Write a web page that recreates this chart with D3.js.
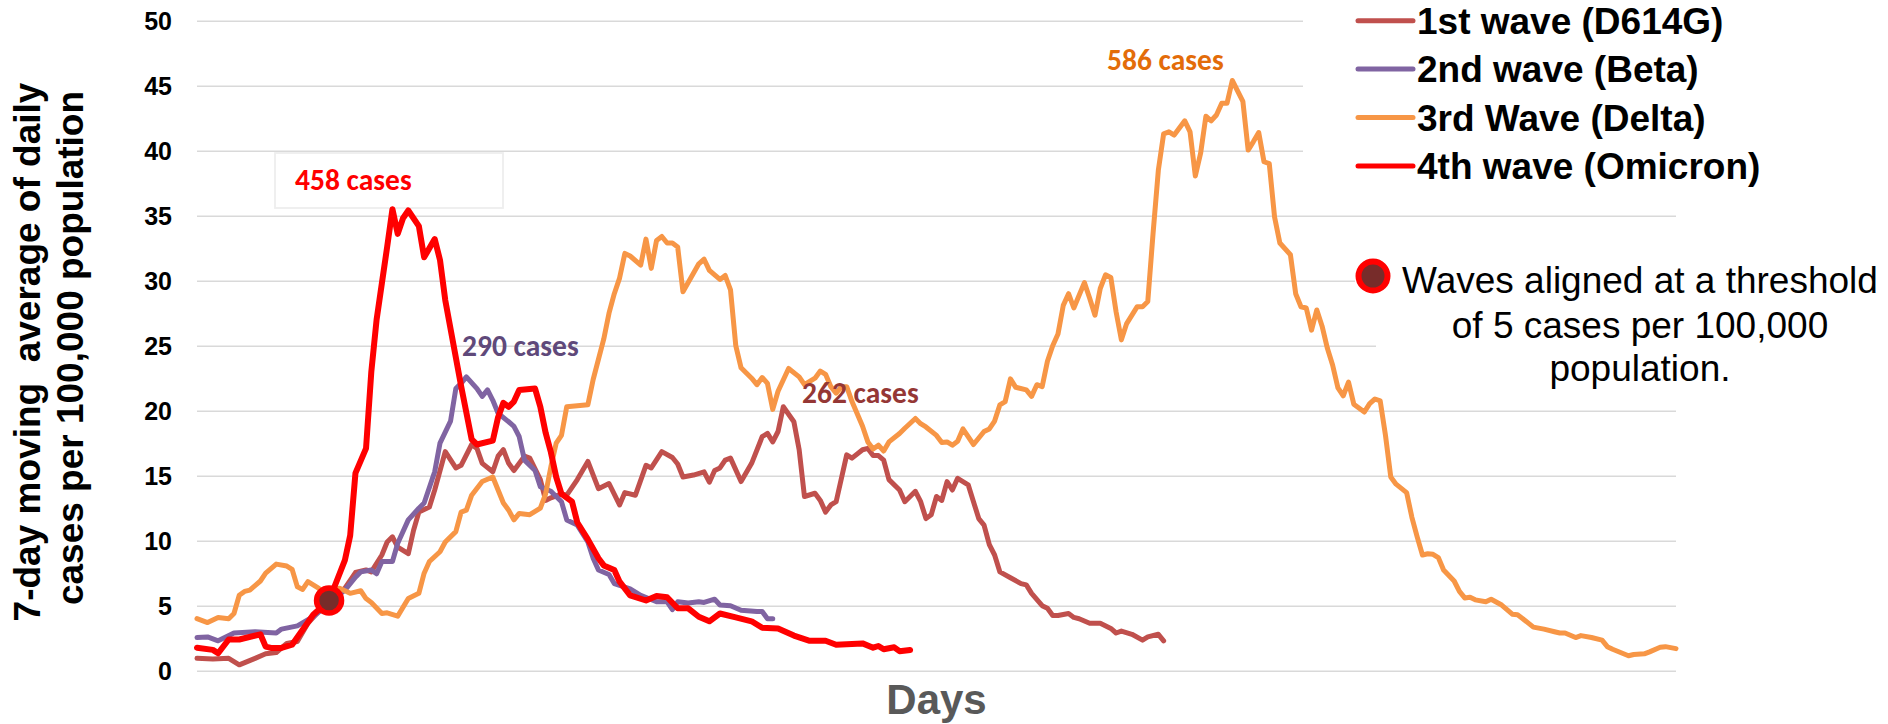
<!DOCTYPE html>
<html><head><meta charset="utf-8">
<script src="https://cdn.jsdelivr.net/npm/d3@7"></script>
<style>html,body{margin:0;padding:0;background:#fff;overflow:hidden}svg{display:block}</style>
</head><body>
<svg id="chart" width="1888" height="724"></svg>
<script>
// ---------------- data ----------------
const yTicks = [0, 5, 10, 15, 20, 25, 30, 35, 40, 45, 50];
const seriesNames = ["1st wave (D614G)", "2nd wave (Beta)", "3rd Wave (Delta)", "4th wave (Omicron)"];
const seriesColors = ["#C0504D", "#8064A2", "#F79646", "#FF0000"];
// [day since start, 7-day moving average per 100,000]
const wave1 = [[0,0.95],[3,0.9],[6,0.95],[8,0.45],[11,0.95],[13,1.3],[15,1.4],[17,2.1],[19,2.25],[21,3.65],[23,4.55],[25,5.2],[28,6.35],[30,7.55],[32,7.75],[33,7.6],[35,8.9],[36,9.9],[37,10.3],[38,9.5],[40,9.0],[41,10.8],[42,12.2],[44,12.6],[45,13.9],[47,16.85],[49,15.6],[50,15.8],[52,17.4],[53,17.1],[54,15.95],[56,15.3],[57,16.5],[58,17.0],[59,15.95],[60,15.4],[62,16.5],[63,16.35],[65,14.7],[66,13.1],[67,13.3],[69,13.6],[70,13.5],[72,14.7],[74,16.1],[76,14.0],[78,14.4],[80,12.75],[81,13.7],[83,13.5],[85,15.8],[86,15.6],[88,16.85],[90,16.4],[91,15.9],[92,14.9],[94,15.05],[96,15.3],[97,14.5],[98,15.4],[99,15.6],[100,16.2],[101,16.35],[103,14.55],[105,15.95],[107,18.0],[108,18.25],[109,17.6],[110,18.4],[111,20.3],[113,19.15],[114,17.0],[115,13.4],[117,13.65],[118,13.1],[119,12.2],[120,12.75],[121,13.0],[123,16.6],[124,16.35],[126,17.0],[127,17.1],[128,16.55],[129,16.55],[130,16.2],[131,14.7],[133,13.9],[134,13.0],[136,13.8],[137,13.0],[138,11.7],[139,12.0],[140,13.4],[141,13.1],[142,14.55],[143,13.9],[144,14.8],[146,14.3],[147,13.0],[148,11.7],[149,11.2],[150,9.7],[151,8.9],[152,7.6],[154,7.15],[156,6.7],[157,6.6],[158,5.95],[160,5.0],[161,4.8],[162,4.25],[163,4.25],[165,4.4],[166,4.1],[167,4.0],[169,3.65],[171,3.65],[173,3.25],[174,2.9],[175,3.05],[177,2.8],[179,2.35],[180,2.6],[182,2.8],[183,2.3]];
const wave2 = [[0,2.55],[2,2.6],[4,2.3],[7,2.9],[11,3.0],[15,2.9],[16,3.2],[19,3.45],[22,4.15],[25,5.2],[28,6.2],[30,7.2],[31,7.6],[33,7.75],[34,7.45],[35,8.4],[37,8.4],[38,9.8],[40,11.6],[42,12.5],[43,12.9],[45,15.3],[46,17.5],[48,19.2],[49,21.7],[50,22.1],[51,22.6],[53,21.7],[54,21.1],[55,21.6],[56,20.8],[57,19.8],[59,19.15],[60,18.8],[61,18.0],[62,16.2],[64,15.4],[65,14.15],[67,13.8],[69,13.0],[70,11.6],[72,11.2],[74,9.9],[75,8.65],[76,7.75],[78,7.4],[79,6.7],[82,6.3],[84,5.8],[87,5.3],[89,5.3],[90,4.7],[91,5.3],[93,5.2],[95,5.3],[96,5.25],[98,5.5],[99,5.05],[101,5.0],[103,4.65],[106,4.55],[107,4.55],[108,4.0],[109,4.0]];
const wave3 = [[0,4.0],[2,3.7],[4,4.1],[6,4.0],[7,4.4],[8,5.8],[9,6.1],[10,6.2],[12,6.9],[13,7.5],[15,8.2],[17,8.05],[18,7.8],[19,6.45],[20,6.25],[21,6.85],[23,6.35],[24,5.95],[27,6.35],[29,5.95],[31,6.15],[32,5.55],[33,5.25],[35,4.4],[36,4.45],[38,4.2],[40,5.55],[42,5.95],[43,7.5],[44,8.4],[46,9.15],[47,9.9],[49,10.7],[50,12.2],[51,12.35],[52,13.5],[54,14.55],[56,14.9],[58,12.9],[59,12.35],[60,11.6],[61,12.1],[63,12.0],[65,12.5],[66,13.6],[67,15.7],[68,17.5],[69,18.1],[70,20.3],[74,20.45],[75,22.4],[77,25.5],[78,27.5],[79,29.0],[80,30.2],[81,32.1],[82,31.9],[84,31.2],[85,33.2],[86,30.95],[87,33.1],[88,33.4],[89,32.9],[90,32.9],[91,32.6],[92,29.15],[95,31.3],[96,31.65],[97,30.8],[99,30.1],[100,30.4],[101,29.3],[102,25.0],[103,23.3],[105,22.5],[106,22.0],[107,22.55],[108,22.1],[109,20.1],[110,21.5],[112,23.25],[114,22.6],[115,22.0],[117,22.5],[118,23.05],[119,22.8],[120,21.85],[121,21.35],[122,21.85],[123,21.85],[124,20.7],[126,18.8],[127,17.6],[128,17.05],[129,17.35],[130,16.9],[131,17.6],[133,18.25],[134,18.65],[136,19.4],[137,19.0],[138,18.75],[140,18.1],[141,17.55],[142,17.6],[143,17.35],[144,17.65],[145,18.6],[147,17.4],[148,17.9],[149,18.4],[150,18.6],[151,19.2],[152,20.45],[153,20.7],[154,22.45],[155,21.8],[157,21.6],[158,21.1],[159,22.0],[160,21.85],[161,23.8],[162,25.0],[163,25.9],[164,28.1],[165,29.0],[166,27.9],[168,29.85],[169,28.65],[170,27.35],[171,29.4],[172,30.45],[173,30.25],[174,27.6],[175,25.45],[176,26.7],[178,28.0],[179,28.0],[180,28.4],[181,33.65],[182,38.5],[183,41.3],[184,41.45],[185,41.2],[187,42.3],[188,41.45],[189,38.05],[190,39.8],[191,42.65],[192,42.3],[193,42.75],[194,43.65],[195,43.65],[196,45.4],[198,43.8],[199,40.05],[200,40.7],[201,41.4],[202,39.15],[203,39.0],[204,34.9],[205,32.9],[207,32.0],[208,29.0],[209,28.0],[210,27.9],[211,26.2],[212,27.75],[213,26.5],[214,24.8],[215,23.5],[216,21.75],[217,21.15],[218,22.2],[219,20.5],[221,19.9],[222,20.55],[223,20.9],[224,20.75],[225,18.1],[226,14.9],[227,14.35],[229,13.7],[230,11.8],[231,10.3],[232,8.9],[233,9.0],[234,8.95],[235,8.7],[236,7.75],[238,6.9],[239,6.1],[240,5.6],[241,5.65],[242,5.45],[244,5.3],[245,5.5],[247,5.05],[249,4.35],[250,4.3],[251,4.0],[253,3.35],[255,3.2],[257,3.0],[258,2.9],[259,2.9],[261,2.55],[262,2.7],[264,2.55],[266,2.35],[267,1.85],[268,1.65],[271,1.15],[272,1.25],[274,1.3],[275,1.45],[277,1.8],[278,1.85],[280,1.7]];
const wave4 = [[0,1.77],[3,1.6],[4,1.34],[6,2.4],[8,2.4],[12,2.8],[13,1.85],[14,1.75],[16,1.75],[18,2.0],[22,4.3],[25,5.4],[28,8.5],[29,10.4],[30,15.2],[32,17.1],[33,23.0],[34,27.0],[35,29.8],[36,32.6],[37,35.5],[38,33.6],[39,34.8],[40,35.4],[42,34.2],[43,31.8],[45,33.2],[46,31.6],[47,28.5],[50,21.9],[52,17.8],[53,17.4],[56,17.7],[57,19.5],[58,20.6],[59,20.3],[60,20.7],[61,21.6],[64,21.7],[65,20.3],[66,18.3],[67,16.8],[68,14.9],[69,13.6],[71,13.0],[72,11.4],[74,10.1],[76,8.65],[77,8.1],[79,7.75],[80,6.85],[82,5.8],[85,5.4],[87,5.75],[89,5.65],[91,4.8],[93,4.8],[95,4.15],[97,3.8],[99,4.4],[102,4.1],[105,3.8],[107,3.3],[110,3.25],[113,2.7],[116,2.3],[119,2.3],[121,2.0],[126,2.1],[128,1.77],[129,1.9],[130,1.65],[132,1.8],[133,1.5],[135,1.6]];
const peakLabels = ["262 cases", "290 cases", "586 cases", "458 cases"];
const peakLabelColors = ["#953735", "#5F497A", "#E36C09", "#FF0000"];
const alignPoint = [25, 5.4];
const noteLines = ["Waves aligned at a threshold", "of 5 cases per 100,000", "population."];
const yTitleLines = ["7-day moving  average of daily", "cases per 100,000 population"];
const xTitle = "Days";

// ---------------- layout ----------------
const W = 1888, H = 724;
const plot = { left: 197, right: 1676, top: 20.7, bottom: 670.7 };
const boldFont = "'Liberation Sans', Arial, sans-serif";
const annFont = "Carlito, Calibri, Lato, sans-serif";

const svg = d3.select("#chart");
const x = d3.scaleLinear().domain([0, 280]).range([plot.left, plot.right]);
const y = d3.scaleLinear().domain([0, 50]).range([plot.bottom, plot.top]);

// gridlines + y tick labels
const yAxis = d3.axisLeft(y).tickValues(yTicks).tickSize(-(plot.right - plot.left)).tickPadding(25).tickFormat(d3.format("d"));
const gAxis = svg.append("g").attr("transform", `translate(${plot.left},0)`).call(yAxis);
gAxis.select(".domain").remove();
gAxis.selectAll(".tick line").attr("stroke", "#D9D9D9").attr("stroke-width", 1.6);
gAxis.selectAll(".tick text").attr("fill", "#000").attr("font-family", boldFont)
  .attr("font-weight", "bold").attr("font-size", 25).attr("dy", "0.35em");

// white backgrounds of the legend / note boxes (hide gridlines behind them)
svg.append("rect").attr("x", 1303).attr("y", 0).attr("width", W - 1303).attr("height", 190).attr("fill", "#fff");
svg.append("rect").attr("x", 1355).attr("y", 250).attr("width", W - 1355).attr("height", 60).attr("fill", "#fff");
svg.append("rect").attr("x", 1376).attr("y", 310).attr("width", W - 1376).attr("height", 80).attr("fill", "#fff");

// Omicron label box
svg.append("rect").attr("x", 275).attr("y", 153).attr("width", 228).attr("height", 55)
  .attr("fill", "#fff").attr("stroke", "#EEEEEE").attr("stroke-width", 1.8);

// lines
const line = d3.line().x(d => x(d[0])).y(d => y(d[1]));
const waves = [wave1, wave2, wave3, wave4];
const widths = [5, 5, 5, 6];
waves.forEach((w, i) => {
  svg.append("path").datum(w).attr("d", line).attr("fill", "none")
    .attr("stroke", seriesColors[i]).attr("stroke-width", widths[i])
    .attr("stroke-linejoin", "round").attr("stroke-linecap", "round");
});

// peak labels
const labelPos = [[802, 403], [462, 356], [1107, 70], [295, 190]];
peakLabels.forEach((t, i) => {
  svg.append("text").attr("x", labelPos[i][0]).attr("y", labelPos[i][1])
    .attr("font-family", annFont).attr("font-weight", "bold").attr("font-size", 29.5)
    .attr("fill", peakLabelColors[i]).text(t);
});

// alignment marker
svg.append("circle").attr("cx", x(alignPoint[0])).attr("cy", y(alignPoint[1])).attr("r", 12.5)
  .attr("fill", "#772C2A").attr("stroke", "#FF0000").attr("stroke-width", 5.5);

// y title
const yTitlePos = [[40, 352], [83, 348]];
yTitleLines.forEach((t, i) => {
  svg.append("text").attr("transform", `translate(${yTitlePos[i][0]},${yTitlePos[i][1]}) rotate(-90)`)
    .attr("text-anchor", "middle").attr("font-family", boldFont).attr("font-weight", "bold")
    .attr("font-size", 37).attr("fill", "#000").style("white-space", "pre").text(t);
});

// x title
svg.append("text").attr("x", (plot.left + plot.right) / 2).attr("y", 714).attr("text-anchor", "middle")
  .attr("font-family", boldFont).attr("font-weight", "bold").attr("font-size", 42).attr("fill", "#595959").text(xTitle);

// legend
const legY = [20.7, 69.1, 117.5, 166];
seriesNames.forEach((n, i) => {
  svg.append("line").attr("x1", 1358).attr("x2", 1413).attr("y1", legY[i]).attr("y2", legY[i])
    .attr("stroke", seriesColors[i]).attr("stroke-width", 5).attr("stroke-linecap", "round");
  svg.append("text").attr("x", 1417).attr("y", legY[i] + 13).attr("font-family", boldFont)
    .attr("font-weight", "bold").attr("font-size", 37).attr("fill", "#000").text(n);
});

// note with marker
svg.append("circle").attr("cx", 1373).attr("cy", 276).attr("r", 14.5)
  .attr("fill", "#772C2A").attr("stroke", "#FF0000").attr("stroke-width", 6);
const noteBase = [293, 338, 381];
noteLines.forEach((t, i) => {
  svg.append("text").attr("x", 1640).attr("y", noteBase[i]).attr("text-anchor", "middle")
    .attr("font-family", boldFont).attr("font-size", 37).attr("fill", "#000").text(t);
});
</script>
</body></html>
